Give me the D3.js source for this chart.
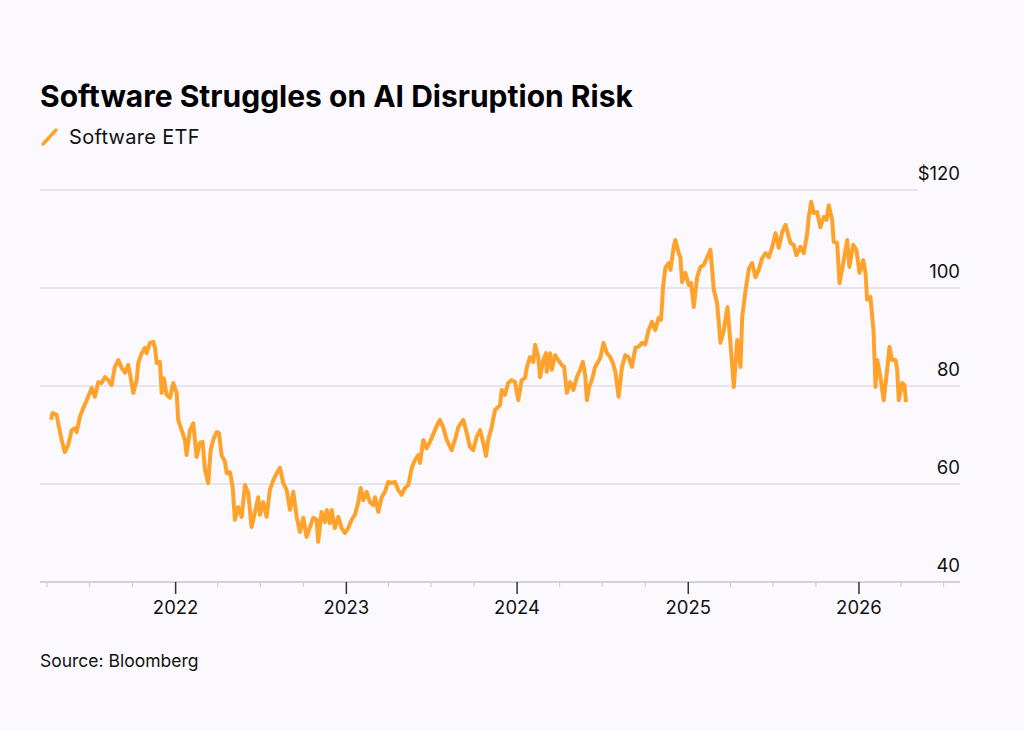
<!DOCTYPE html>
<html>
<head>
<meta charset="utf-8">
<script src="https://cdn.jsdelivr.net/npm/d3@7"></script>
<style>
  body { margin: 0; background: #fbf9fe; }
  svg { display: block; font-family: Inter, "Noto Sans", sans-serif; }
</style>
</head>
<body>
<script>
// chart data
var yearFrac = [2021.270,2021.279,2021.303,2021.312,2021.332,2021.351,2021.371,2021.391,2021.410,2021.420,
  2021.439,2021.459,2021.479,2021.508,2021.527,2021.547,2021.566,2021.586,2021.605,2021.625,
  2021.644,2021.664,2021.684,2021.703,2021.722,2021.736,2021.752,2021.772,2021.781,2021.801,
  2021.820,2021.830,2021.849,2021.869,2021.879,2021.889,2021.908,2021.918,2021.931,2021.947,
  2021.967,2021.986,2022.006,2022.015,2022.035,2022.054,2022.064,2022.084,2022.103,2022.113,
  2022.123,2022.142,2022.158,2022.172,2022.191,2022.205,2022.220,2022.240,2022.254,2022.269,
  2022.289,2022.299,2022.318,2022.334,2022.347,2022.367,2022.387,2022.406,2022.425,2022.445,
  2022.465,2022.484,2022.494,2022.513,2022.533,2022.552,2022.572,2022.592,2022.611,2022.630,
  2022.650,2022.670,2022.689,2022.709,2022.728,2022.748,2022.767,2022.787,2022.806,2022.826,
  2022.835,2022.855,2022.875,2022.885,2022.904,2022.914,2022.933,2022.953,2022.972,2022.992,
  2023.011,2023.031,2023.050,2023.070,2023.084,2023.099,2023.119,2023.138,2023.158,2023.168,
  2023.187,2023.207,2023.226,2023.245,2023.265,2023.285,2023.304,2023.324,2023.343,2023.363,
  2023.383,2023.402,2023.421,2023.431,2023.451,2023.470,2023.490,2023.519,2023.538,2023.548,
  2023.567,2023.588,2023.617,2023.636,2023.656,2023.685,2023.705,2023.724,2023.743,2023.763,
  2023.783,2023.802,2023.818,2023.831,2023.851,2023.871,2023.900,2023.910,2023.929,2023.948,
  2023.968,2023.988,2024.007,2024.027,2024.046,2024.058,2024.076,2024.095,2024.105,2024.124,
  2024.134,2024.153,2024.169,2024.173,2024.193,2024.203,2024.222,2024.241,2024.261,2024.275,
  2024.291,2024.310,2024.329,2024.349,2024.368,2024.384,2024.398,2024.408,2024.421,2024.437,
  2024.456,2024.486,2024.505,2024.525,2024.544,2024.560,2024.574,2024.593,2024.613,2024.632,
  2024.651,2024.671,2024.691,2024.710,2024.730,2024.749,2024.759,2024.768,2024.788,2024.807,
  2024.827,2024.841,2024.853,2024.866,2024.886,2024.896,2024.915,2024.925,2024.944,2024.954,
  2024.964,2024.983,2025.003,2025.017,2025.032,2025.052,2025.071,2025.091,2025.111,2025.130,
  2025.150,2025.169,2025.189,2025.208,2025.230,2025.247,2025.267,2025.287,2025.306,2025.316,
  2025.336,2025.355,2025.374,2025.394,2025.413,2025.433,2025.453,2025.472,2025.492,2025.511,
  2025.530,2025.550,2025.570,2025.589,2025.599,2025.618,2025.634,2025.657,2025.677,2025.697,
  2025.706,2025.720,2025.735,2025.755,2025.774,2025.794,2025.810,2025.823,2025.843,2025.852,
  2025.872,2025.886,2025.911,2025.931,2025.944,2025.966,2025.985,2026.003,2026.025,2026.038,
  2026.048,2026.067,2026.085,2026.097,2026.107,2026.126,2026.145,2026.165,2026.179,2026.194,
  2026.214,2026.224,2026.233,2026.253,2026.266,2026.276];

var price = [73.1,74.5,74.1,72.4,69,66.5,68,71,71.4,70.6,
  73.7,75.5,77.1,79.6,77.8,80.8,80.6,81.8,81.2,80.2,
  83.9,85.3,83.7,82.7,84.3,81.8,78.6,81.2,84.7,86.7,
  87.8,86.7,88.8,89,87.8,84.7,84.9,78.6,81.6,78.2,
  77.6,80.6,78.6,73.1,71,69,65.9,71,72.4,69,
  65.5,68.4,68.6,62.9,60.2,66.9,69,70.6,70.4,65.9,
  64.5,62.2,62.4,59.4,52.7,55.3,53.3,59.8,58.2,51.2,
  54.3,57.3,53.7,56.3,53.3,58.8,60.8,62.2,63.3,60.2,
  58.8,54.7,58.4,53.3,50.2,53.1,49.2,51.2,53.1,52.7,
  48.2,54.3,52.2,54.7,52,54.7,51,53.3,51,50,
  51,52.7,53.7,56.3,59.2,56.7,58.4,56.3,55.7,57.3,
  54.3,57.3,58.4,60.4,60.2,60.4,58.8,57.8,59.2,59.8,
  63.3,64.9,65.9,64.3,69,67.3,68.6,71,72.5,73.1,
  71.6,69,66.9,69,71.6,73.1,70.4,67.6,66.9,69.6,
  71,68.4,65.7,69,71.6,75.1,76.1,79.2,78.2,80.6,
  81.2,80.8,77.1,81.2,81.6,83.9,85.9,84.9,88.4,85.9,
  81.8,85.3,86.7,82.9,86.7,83.3,86.3,85.3,84.3,83.9,
  78.6,80.8,79.2,81.8,83.3,84.9,82.2,77.1,79.8,81.2,
  83.9,85.7,88.8,86.7,85.9,84.7,82.9,77.8,83.9,86.3,
  85.9,83.9,87.8,88,88.8,88.5,90,91.4,93.1,91.4,
  93.9,93.5,100.2,104.1,105.1,103.7,108.4,109.8,107.1,106.3,
  101.2,103.1,100.6,101,96.1,102.2,104.3,104.7,106.3,107.8,
  99.6,96.9,88.8,91.4,96.1,88.8,79.8,89.4,83.9,94.1,
  99.6,103.9,105.1,102.2,103.7,106.1,107.1,106.3,108.4,111.2,
  108.2,111.4,112.9,110.4,109.2,108.8,106.7,108.4,107.1,111.2,
  114.5,117.6,115.3,115.5,112.4,114.5,113.9,116.9,113.9,109.4,
  109.2,101,105.7,109.8,104.3,108.8,107.8,103.1,105.7,103.1,
  97.6,98.2,91.4,79.8,85.3,81.8,77.1,83.3,88,85.3,
  85.3,83.3,77.1,80.6,80.2,76.7];

var yTicks = [40, 60, 80, 100, 120];
var yearTicks = [2022, 2023, 2024, 2025, 2026];
var title = "Software Struggles on AI Disruption Risk";
var seriesName = "Software ETF";
var source = "Source: Bloomberg";

var width = 1024, height = 731;
var plotLeft = 40, plotRight = 960, plotTop = 190, plotBottom = 582;

function toDate(t) {
  var yr = Math.floor(t);
  var start = new Date(yr, 0, 1), end = new Date(yr + 1, 0, 1);
  return new Date(+start + (t - yr) * (end - start));
}

var data = yearFrac.map(function(t, i) { return {date: toDate(t), value: price[i]}; });

var svg = d3.select("body").append("svg")
    .attr("width", width)
    .attr("height", height);

svg.append("rect").attr("width", width).attr("height", height).attr("fill", "#fbf9fe");

var x = d3.scaleTime()
    .domain([new Date(2021, 2, 17), new Date(2026, 7, 5)])
    .range([plotLeft, plotRight]);

var y = d3.scaleLinear()
    .domain([40, 120])
    .range([plotBottom, plotTop]);

// gridlines
svg.append("g").selectAll("line")
    .data(yTicks.filter(function(d) { return d > 40; }))
    .enter().append("line")
    .attr("x1", plotLeft)
    .attr("x2", function(d) { return d === 120 ? 918 : plotRight; })
    .attr("y1", function(d) { return y(d); })
    .attr("y2", function(d) { return y(d); })
    .attr("stroke", "#d3d1d6")
    .attr("stroke-width", 1.2);

// y labels, sitting above the gridlines
svg.append("g").selectAll("text")
    .data(yTicks)
    .enter().append("text")
    .attr("x", plotRight)
    .attr("y", function(d) { return y(d) - 10; })
    .attr("text-anchor", "end")
    .attr("font-size", 18.5)
    .attr("fill", "#111")
    .text(function(d) { return d === 120 ? "$" + d : d; });

// x axis: quarterly minor ticks + yearly major ticks
var quarters = d3.timeMonth.every(3).range(x.domain()[0], x.domain()[1]);
svg.append("g").selectAll("line")
    .data(quarters.filter(function(d) { return d.getMonth() !== 0; }))
    .enter().append("line")
    .attr("x1", function(d) { return x(d); })
    .attr("x2", function(d) { return x(d); })
    .attr("y1", plotBottom)
    .attr("y2", plotBottom + 5)
    .attr("stroke", "#c8c6cc")
    .attr("stroke-width", 1);

svg.append("line")
    .attr("x1", plotLeft).attr("x2", plotRight)
    .attr("y1", plotBottom).attr("y2", plotBottom)
    .attr("stroke", "#d3d1d6")
    .attr("stroke-width", 2);

var yearDates = yearTicks.map(function(d) { return new Date(d, 0, 1); });
svg.append("g").selectAll("line")
    .data(yearDates)
    .enter().append("line")
    .attr("x1", function(d) { return x(d); })
    .attr("x2", function(d) { return x(d); })
    .attr("y1", plotBottom)
    .attr("y2", plotBottom + 12)
    .attr("stroke", "#333")
    .attr("stroke-width", 1.5);

svg.append("g").selectAll("text")
    .data(yearDates)
    .enter().append("text")
    .attr("x", function(d) { return x(d); })
    .attr("y", 614)
    .attr("text-anchor", "middle")
    .attr("font-size", 18.5)
    .attr("fill", "#111")
    .text(d3.timeFormat("%Y"));

// the series line
var line = d3.line()
    .x(function(d) { return x(d.date); })
    .y(function(d) { return y(d.value); });

svg.append("path")
    .datum(data)
    .attr("d", line)
    .attr("fill", "none")
    .attr("stroke", "#ffa22b")
    .attr("stroke-width", 4)
    .attr("stroke-linejoin", "round");

// title, legend, source
svg.append("text")
    .attr("x", 40).attr("y", 107)
    .attr("font-size", 30)
    .attr("font-weight", 700)
    .attr("fill", "#000")
    .text(title);

svg.append("line")
    .attr("x1", 43).attr("y1", 144)
    .attr("x2", 56).attr("y2", 130)
    .attr("stroke", "#ffa22b")
    .attr("stroke-width", 3.4)
    .attr("stroke-linecap", "round");

svg.append("text")
    .attr("x", 69).attr("y", 144)
    .attr("font-size", 20)
    .attr("letter-spacing", 0.3)
    .attr("fill", "#111")
    .text(seriesName);

svg.append("text")
    .attr("x", 40).attr("y", 667)
    .attr("font-size", 17.5)
    .attr("fill", "#111")
    .text(source);
</script>
</body>
</html>
